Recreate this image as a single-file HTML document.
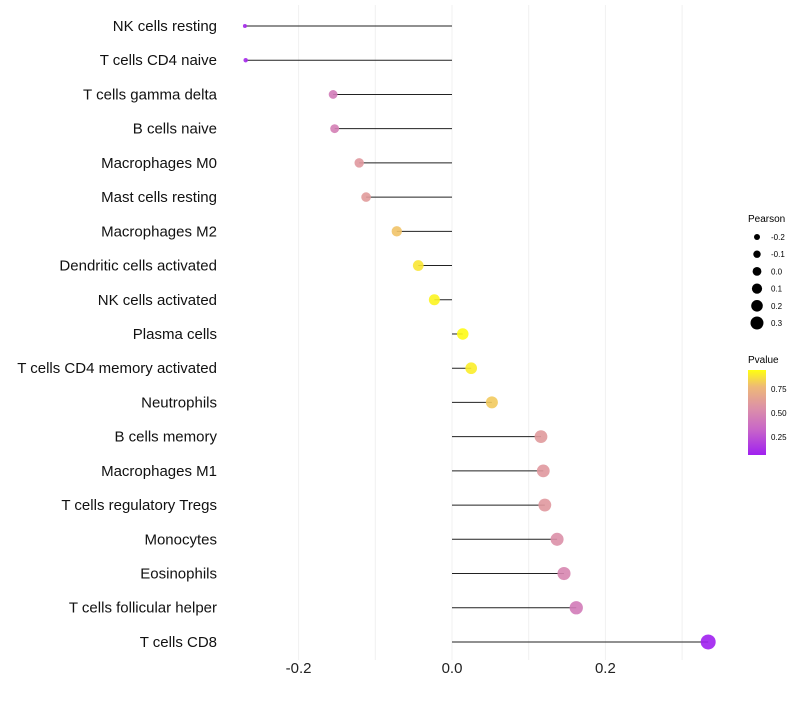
<!DOCTYPE html>
<html><head><meta charset="utf-8"><style>
body{margin:0;background:#fff;font-family:"Liberation Sans",sans-serif}
</style></head><body>
<svg id="chart" width="800" height="700" xmlns="http://www.w3.org/2000/svg" font-family="Liberation Sans, sans-serif">
<defs><linearGradient id="pg" x1="0" y1="1" x2="0" y2="0">
<stop offset="0" stop-color="#a020f0"/><stop offset="0.3" stop-color="#c866c8"/><stop offset="0.55" stop-color="#dc90a8"/><stop offset="0.8" stop-color="#eeb878"/><stop offset="1" stop-color="#ffff10"/></linearGradient></defs>
<g id="grid"></g>
<g id="marks"></g>
<g id="ylabels"></g>
<g id="xlabels"></g>
<g id="sizeleg">
<text x="748" y="222" font-size="10">Pearson</text>
</g>
<g>
<text x="748" y="363" font-size="10">Pvalue</text>
<rect x="748" y="370" width="18" height="85" fill="url(#pg)"/>
<text x="771" y="392" font-size="8">0.75</text>
<text x="771" y="416" font-size="8">0.50</text>
<text x="771" y="440" font-size="8">0.25</text>
</g>
</svg>
<script>
const categories=["NK cells resting","T cells CD4 naive","T cells gamma delta","B cells naive","Macrophages M0","Mast cells resting","Macrophages M2","Dendritic cells activated","NK cells activated","Plasma cells","T cells CD4 memory activated","Neutrophils","B cells memory","Macrophages M1","T cells regulatory  Tregs","Monocytes","Eosinophils","T cells follicular helper","T cells CD8"];
const pearson=[-0.270,-0.269,-0.155,-0.153,-0.121,-0.112,-0.072,-0.044,-0.023,0.014,0.025,0.052,0.116,0.119,0.121,0.137,0.146,0.162,0.334];
const pvalue=[0.08,0.08,0.40,0.42,0.55,0.57,0.78,0.88,0.92,0.94,0.90,0.80,0.56,0.55,0.55,0.50,0.45,0.40,0.05];
const xTicks=[-0.2,0.0,0.2];
const xGrid=[-0.2,-0.1,0.0,0.1,0.2,0.3];
const legendVals=[-0.2,-0.1,0.0,0.1,0.2,0.3];
const NS="http://www.w3.org/2000/svg";
const x=v=>452+v*767;
const y=i=>26+i*34.22;
const r=v=>2+5.5*Math.sqrt(Math.max(0,(v+0.27)/0.604));
const stops=[[0.05,[160,32,240]],[0.3,[200,102,200]],[0.5,[220,144,168]],[0.75,[238,184,120]],[0.95,[255,255,16]]];
function col(p){if(p<=stops[0][0])return 'rgb('+stops[0][1]+')';for(let k=1;k<stops.length;k++){if(p<=stops[k][0]){const a=stops[k-1],b=stops[k],t=(p-a[0])/(b[0]-a[0]);return 'rgb('+a[1].map((c,j)=>Math.round(c+(b[1][j]-c)*t)).join(',')+')';}}return 'rgb('+stops[stops.length-1][1]+')';}
function mk(t,a,parent){const e=document.createElementNS(NS,t);for(const k in a)e.setAttribute(k,a[k]);parent.appendChild(e);return e;}
const grid=document.getElementById('grid'),marks=document.getElementById('marks'),yl=document.getElementById('ylabels'),xl=document.getElementById('xlabels');
xGrid.forEach(v=>{const l=mk('line',{x1:x(v),x2:x(v),y1:5,y2:660,stroke:'#f0f0f0','stroke-width':1},grid);

});
xTicks.forEach(v=>{const t=mk('text',{x:x(v),y:673,'font-size':15,'text-anchor':'middle',fill:'#222'},xl);t.textContent=v.toFixed(1);

});
categories.forEach((c,i)=>{
const t=mk('text',{x:217,y:y(i)+5,'font-size':15,'text-anchor':'end',fill:'#111'},yl);t.textContent=c;


const l=mk('line',{x1:x(0),x2:x(pearson[i]),y1:y(i),y2:y(i),stroke:'#222','stroke-width':1},marks);


const p=mk('circle',{cx:x(pearson[i]),cy:y(i),r:r(pearson[i]),fill:col(pvalue[i]),'fill-opacity':0.9},marks);


});
const sl=document.getElementById('sizeleg');
legendVals.forEach((v,k)=>{const cy=237+k*17.2;
const c=mk('circle',{cx:757,cy:cy,r:3+(v+0.2)/0.5*3.5,fill:'#000'},sl);


const t=mk('text',{x:771,y:cy+3,'font-size':8},sl);t.textContent=v.toFixed(1);

});
</script>
</body></html>
